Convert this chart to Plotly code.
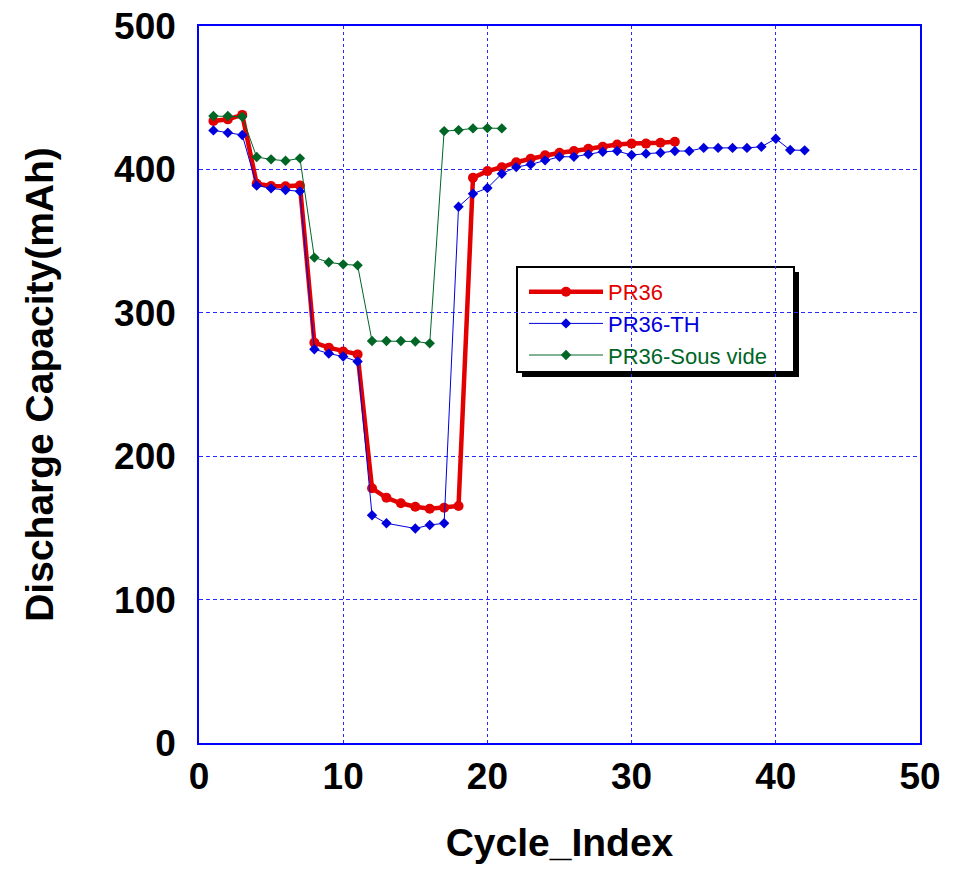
import plotly.graph_objects as go

# ---- data ----
red_cycles = list(range(1, 34))
red_capacity = [433.7, 434.9, 438.0, 390.0, 388.4, 388.2, 388.8, 279.2, 275.7, 273.0, 271.0,
                177.6, 171.0, 167.2, 164.8, 163.4, 164.0, 165.3, 394.2, 398.8, 401.5, 405.0,
                407.4, 409.8, 411.6, 412.8, 414.4, 415.8, 417.4, 418.0, 418.0, 418.6, 419.3]

blue_cycles = list(range(1, 14)) + list(range(15, 43))
blue_capacity = [427.2, 425.6, 424.0, 388.8, 386.8, 385.6, 384.7, 274.6, 271.6, 269.5, 266.0,
                 158.8, 153.2, 149.6, 152.0, 153.2, 374.0, 383.0, 387.0, 397.0, 401.6, 403.5,
                 406.3, 408.8, 408.8, 410.5, 412.3, 412.8, 410.0, 411.0, 411.6, 412.8, 412.8,
                 415.0, 415.0, 415.0, 415.0, 415.8, 421.4, 413.5, 413.3]

green_cycles = list(range(1, 22))
green_capacity = [437.2, 437.2, 436.7, 408.6, 407.0, 406.0, 407.7, 338.5, 335.2, 333.8, 333.1,
                  280.3, 280.3, 280.3, 280.0, 278.7, 426.7, 427.4, 428.6, 428.8, 428.6]

series_names = ["PR36", "PR36-TH", "PR36-Sous vide"]
x_ticks = [0, 10, 20, 30, 40, 50]
y_ticks = [0, 100, 200, 300, 400, 500]

RED, BLUE, GREEN = "#e30000", "#0000dd", "#006626"

# plot-area pixel geometry
L, R, T, B = 199, 920, 26, 743
W, H = 959, 869

def xp(px):
    return (px - L) / (R - L)

def yp(py):
    return (B - py) / (B - T)

fig = go.Figure()
fig.add_trace(go.Scatter(
    x=red_cycles, y=red_capacity, mode="lines+markers",
    name=f"<span style='color:{RED}'>{series_names[0]}</span>",
    line=dict(color=RED, width=4.5), marker=dict(symbol="circle", size=10, color=RED)))
fig.add_trace(go.Scatter(
    x=blue_cycles, y=blue_capacity, mode="lines+markers",
    name=f"<span style='color:{BLUE}'>{series_names[1]}</span>",
    line=dict(color=BLUE, width=1), marker=dict(symbol="diamond", size=8, color=BLUE)))
fig.add_trace(go.Scatter(
    x=green_cycles, y=green_capacity, mode="lines+markers",
    name=f"<span style='color:{GREEN}'>{series_names[2]}</span>",
    line=dict(color=GREEN, width=1), marker=dict(symbol="diamond", size=8, color=GREEN)))

tick_font = dict(family="Liberation Sans, Arial", size=37, color="black", weight="bold")
title_font = dict(family="Liberation Sans, Arial", size=39, color="black", weight="bold")
grid_color = "#2828ff"

fig.update_xaxes(
    range=[0, 50], tickvals=x_ticks, ticktext=[str(v) for v in x_ticks],
    showline=True, linecolor="#0000ff", linewidth=1.5, mirror=True,
    showgrid=True, gridcolor=grid_color, gridwidth=1, griddash="3px,3px",
    zeroline=False, ticks="", tickfont=tick_font, ticklabelstandoff=0,
    automargin=False,
    title=dict(text="Cycle_Index", font=title_font, standoff=33))
fig.update_yaxes(
    range=[0, 500], tickvals=y_ticks, ticktext=[str(v) for v in y_ticks],
    showline=True, linecolor="#0000ff", linewidth=1.5, mirror=True,
    showgrid=True, gridcolor=grid_color, gridwidth=1, griddash="4px,3px",
    zeroline=False, ticks="", tickfont=tick_font, ticklabelstandoff=14,
    automargin=False,
    title=dict(text="Discharge Capacity(mAh)", font=title_font, standoff=48))

# legend box with drop shadow
fig.add_shape(type="rect", xref="paper", yref="paper", layer="between",
              x0=xp(522), x1=xp(799), y0=yp(272), y1=yp(377),
              fillcolor="black", line=dict(width=0))
fig.add_shape(type="rect", xref="paper", yref="paper", layer="between",
              x0=xp(517), x1=xp(794), y0=yp(267), y1=yp(372),
              fillcolor="white", line=dict(color="black", width=2))

fig.update_layout(
    width=W, height=H,
    margin=dict(l=L, r=W - R, t=T, b=H - B, autoexpand=False),
    paper_bgcolor="white", plot_bgcolor="white",
    showlegend=True,
    legend=dict(x=xp(524), y=yp(271), xanchor="left", yanchor="top",
                bgcolor="rgba(0,0,0,0)", borderwidth=0,
                font=dict(family="Liberation Sans, Arial", size=22),
                itemwidth=74, tracegroupgap=0),
)

fig.write_html("out.html")
